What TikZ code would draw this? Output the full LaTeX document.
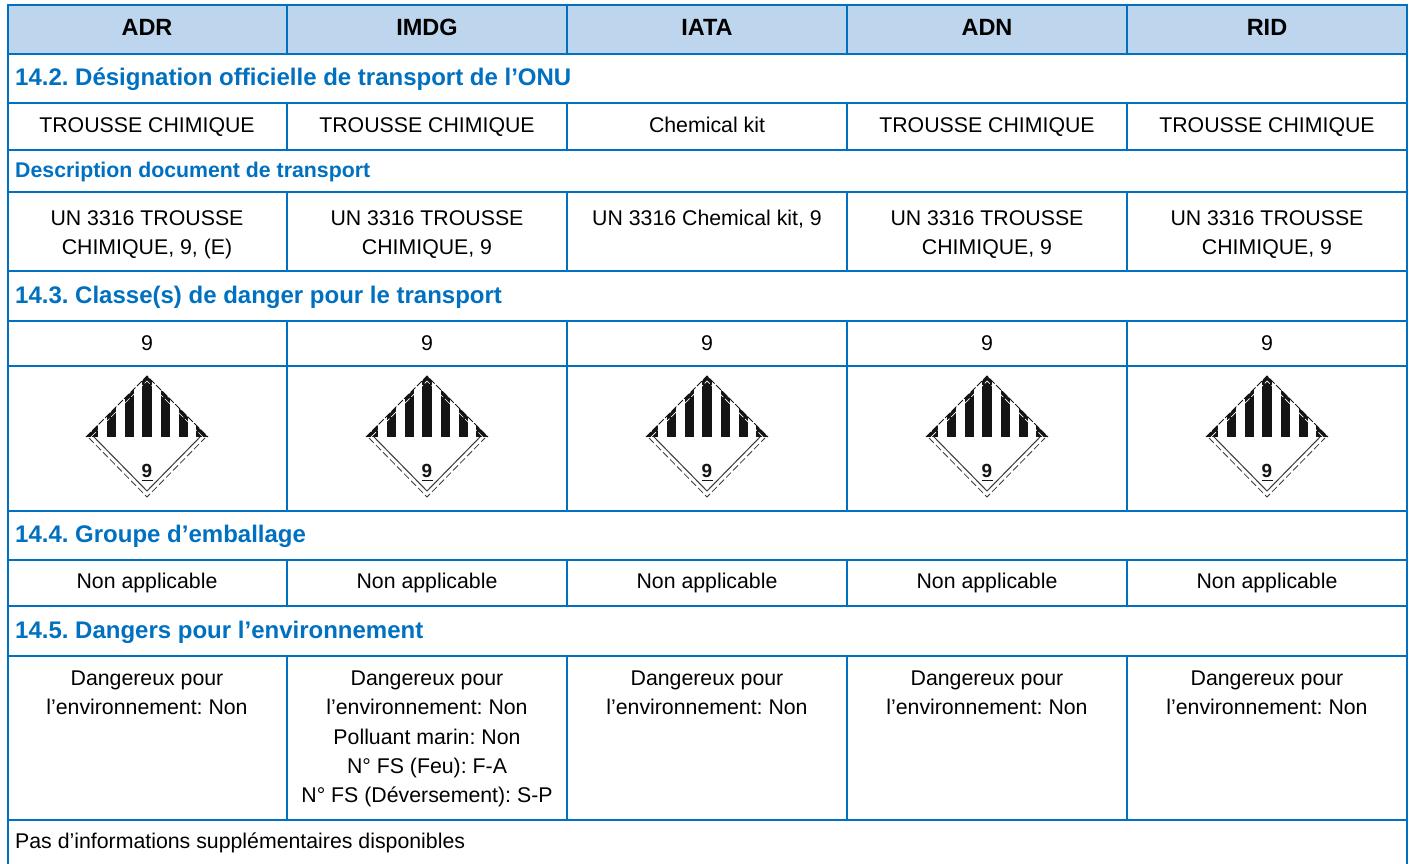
\documentclass[tikz,border=0pt]{standalone}
\usepackage{fontspec}
\setmainfont{Liberation Sans}
\frenchspacing
\definecolor{rule}{RGB}{0,112,192}
\definecolor{headfill}{RGB}{189,214,238}
\definecolor{ink}{RGB}{20,20,20}
\newcommand{\bodyfont}{\fontsize{21.3pt}{29.2pt}\selectfont}
\newcommand{\headfont}{\fontsize{23.5pt}{28pt}\selectfont\bfseries}
\newcommand{\secfont}{\fontsize{24pt}{28pt}\selectfont\bfseries}
\newcommand{\subfont}{\fontsize{21.3pt}{26pt}\selectfont\bfseries}
\tikzset{
  x=1pt,y=-1pt,
  cellline/.style={draw=rule,line width=1.7pt},
  headcell/.style={font=\headfont,text=black,anchor=center,inner sep=0pt},
  bodycell/.style={font=\bodyfont,text=black,anchor=north,align=center,inner sep=0pt,execute at begin node=\strut},
  seccell/.style={font=\secfont,text=rule,anchor=base west,inner sep=0pt},
  subcell/.style={font=\subfont,text=rule,anchor=base west,inner sep=0pt},
  notecell/.style={font=\bodyfont,text=black,anchor=base west,inner sep=0pt},
}
\newcommand{\labelnine}[2]{%
  \begin{scope}[shift={(#1,#2)}]
    \begin{scope}
      \clip (-61,0) -- (0,-61) -- (61,0) -- cycle;
      \fill[ink] (-61,0) rectangle (-49,-14);
      \fill[ink] (49,0) rectangle (61,-14);
      \foreach \xx in {-40.5,-22.2,-4.6,13.5,31.8}{
        \fill[ink] (\xx,0) rectangle ++(9.6,-61);
      }
    \end{scope}
    \draw[white,line width=.7pt,dash pattern=on 7pt off 2.5pt] (-56,0) -- (0,-56) -- (56,0);
    \draw[ink,line width=.8pt,dash pattern=on 7pt off 2pt] (-61,0) -- (0,-61) -- (61,0);
    \draw[ink!85,line width=1pt] (-53,0) -- (0,54) -- (53,0);
    \draw[ink!85,line width=.8pt,dash pattern=on 7pt off 3pt] (-58,1) -- (0,60) -- (58,1);
    \node[font=\fontsize{19pt}{20pt}\selectfont\bfseries,text=ink,inner sep=0pt,anchor=center] (n#1) at (0,34) {9};
    \draw[ink,line width=1.4pt] (-5.5,43.5) -- (5.5,43.5);
  \end{scope}}
\begin{document}
\begin{tikzpicture}
\useasboundingbox (0,0) rectangle (1409,864);
\fill[white] (0,0) rectangle (1409,864);
\fill[headfill] (8,5) rectangle (1407,54);
\foreach \yy in {5,54,103,150,192,271,321,366,511,560,606,656,820}{
  \draw[cellline] (7,\yy) -- (1408,\yy);
}
\draw[cellline] (8,5) -- (8,864);
\draw[cellline] (1407,5) -- (1407,864);
\foreach \xx in {287,567,847,1127}{
  \draw[cellline] (\xx,5) -- (\xx,54);
  \draw[cellline] (\xx,103) -- (\xx,150);
  \draw[cellline] (\xx,192) -- (\xx,271);
  \draw[cellline] (\xx,321) -- (\xx,511);
  \draw[cellline] (\xx,560) -- (\xx,606);
  \draw[cellline] (\xx,656) -- (\xx,820);
}
\node[headcell] (h1) at (147,27.5) {ADR};
\node[headcell] (h2) at (427,27.5) {IMDG};
\node[headcell] (h3) at (707,27.5) {IATA};
\node[headcell] (h4) at (987,27.5) {ADN};
\node[headcell] (h5) at (1267,27.5) {RID};
\node[seccell] (s1) at (15,86) {14.2. Désignation officielle de transport de l’ONU};
\node[subcell] (s2) at (15,178) {Description document de transport};
\node[seccell] (s3) at (15,303) {14.3. Classe(s) de danger pour le transport};
\node[seccell] (s4) at (15,542.5) {14.4. Groupe d’emballage};
\node[seccell] (s5) at (15,638.5) {14.5. Dangers pour l’environnement};
\node[bodycell] (a1) at (147,111.9) {TROUSSE CHIMIQUE};
\node[bodycell] (a2) at (427,111.9) {TROUSSE CHIMIQUE};
\node[bodycell] (a3) at (707,111.9) {Chemical kit};
\node[bodycell] (a4) at (987,111.9) {TROUSSE CHIMIQUE};
\node[bodycell] (a5) at (1267,111.9) {TROUSSE CHIMIQUE};
\node[bodycell] (b1) at (147,210.4) {UN 3316 TROUSSE\\CHIMIQUE, 9, (E)};
\node[bodycell] (b2) at (427,210.4) {UN 3316 TROUSSE\\CHIMIQUE, 9};
\node[bodycell] (b3) at (707,204.4) {UN 3316 Chemical kit, 9};
\node[bodycell] (b4) at (987,210.4) {UN 3316 TROUSSE\\CHIMIQUE, 9};
\node[bodycell] (b5) at (1267,210.4) {UN 3316 TROUSSE\\CHIMIQUE, 9};
\node[bodycell] (c1) at (147,329.9) {9};
\node[bodycell] (c2) at (427,329.9) {9};
\node[bodycell] (c3) at (707,329.9) {9};
\node[bodycell] (c4) at (987,329.9) {9};
\node[bodycell] (c5) at (1267,329.9) {9};
\labelnine{147}{437}
\labelnine{427}{437}
\labelnine{707}{437}
\labelnine{987}{437}
\labelnine{1267}{437}
\node[bodycell] (d1) at (147,568) {Non applicable};
\node[bodycell] (d2) at (427,568) {Non applicable};
\node[bodycell] (d3) at (707,568) {Non applicable};
\node[bodycell] (d4) at (987,568) {Non applicable};
\node[bodycell] (d5) at (1267,568) {Non applicable};
\node[bodycell] (e1) at (147,670.9) {Dangereux pour\\l’environnement: Non};
\node[bodycell] (e2) at (427,670.9) {Dangereux pour\\l’environnement: Non\\Polluant marin: Non\\N° FS (Feu): F-A\\N° FS (Déversement): S-P};
\node[bodycell] (e3) at (707,670.9) {Dangereux pour\\l’environnement: Non};
\node[bodycell] (e4) at (987,670.9) {Dangereux pour\\l’environnement: Non};
\node[bodycell] (e5) at (1267,670.9) {Dangereux pour\\l’environnement: Non};
\node[notecell] (f) at (15,848) {Pas d’informations supplémentaires disponibles};
\end{tikzpicture}
\end{document}
